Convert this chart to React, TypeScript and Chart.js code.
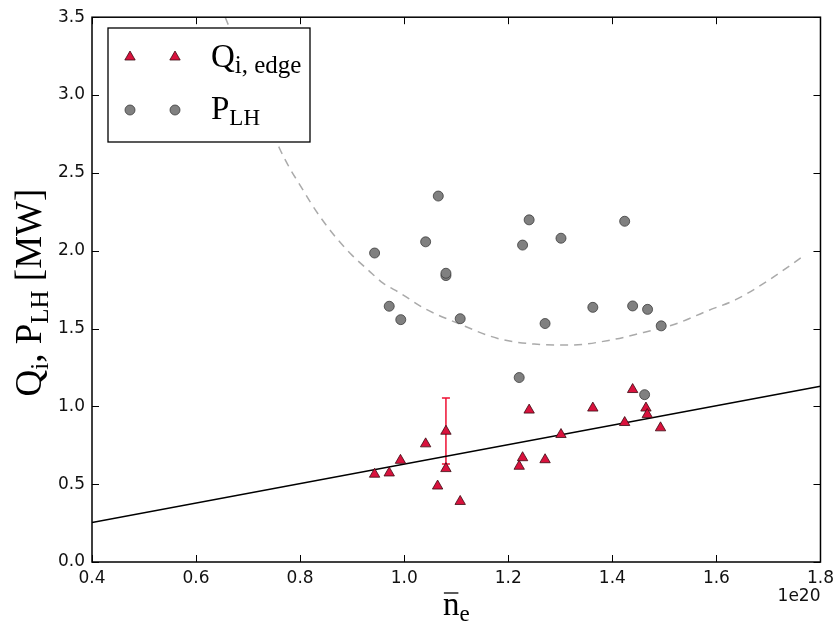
import React, { useEffect, useRef } from 'react';
import { Chart, registerables } from 'chart.js';

Chart.register(...registerables);

// ---------- data ----------
const plhDensity = [1.0655, 1.2401, 1.4237, 1.0412, 0.9431, 1.3013, 1.2275, 1.0802, 1.0802, 0.9712, 0.9934, 1.1076, 1.2707, 1.3625, 1.439, 1.4677, 1.4939, 1.221, 1.462];
const plhPower = [2.351, 2.198, 2.189, 2.057, 1.985, 2.08, 2.036, 1.84, 1.855, 1.643, 1.557, 1.563, 1.532, 1.636, 1.645, 1.623, 1.517, 1.185, 1.075];

const qiDensity = [0.9431, 0.9712, 0.9928, 1.0412, 1.0642, 1.0802, 1.0802, 1.1076, 1.221, 1.2275, 1.2401, 1.2707, 1.3013, 1.3625, 1.4237, 1.439, 1.4646, 1.4671, 1.4926];
const qiPower = [0.564, 0.572, 0.653, 0.759, 0.488, 0.84, 0.6, 0.389, 0.615, 0.67, 0.976, 0.657, 0.819, 0.989, 0.896, 1.108, 0.989, 0.947, 0.862];

const errDensity = [1.0802];
const errLow = [0.63];
const errHigh = [1.053];

const fitDensity = [0.4, 1.8];
const fitPower = [0.253, 1.129];

const curveDensity = [0.656, 0.7, 0.735, 0.76, 0.78, 0.8, 0.82, 0.84, 0.87, 0.9, 0.93, 0.96, 0.99, 1.04, 1.1, 1.18, 1.25, 1.32, 1.4, 1.46, 1.52, 1.58, 1.64, 1.7, 1.765];
const curvePower = [3.5, 3.14, 2.86, 2.66, 2.53, 2.42, 2.31, 2.21, 2.08, 1.97, 1.878, 1.79, 1.732, 1.627, 1.538, 1.436, 1.4, 1.394, 1.428, 1.475, 1.527, 1.61, 1.69, 1.81, 1.96];

const xMin = 0.4, xMax = 1.8, xStep = 0.2;
const yMin = 0, yMax = 3.5, yStep = 0.5;
const xOffsetText = '1e20';

// ---------- styles ----------
const SERIF = '"Liberation Serif", "Times New Roman", serif';
const SANS = '"DejaVu Sans", sans-serif';
const TRI_FILL = '#d9123d';
const TRI_EDGE = '#3a0a12';
const CIRC_FILL = '#808080';
const CIRC_EDGE = '#3c3c3c';

type Seg = { text: string; sub?: boolean };

function drawRich(ctx: CanvasRenderingContext2D, segs: Seg[], x: number, y: number, main: number, sub: number, shift: number, align: 'left' | 'center') {
  let total = 0;
  const widths: number[] = [];
  for (const s of segs) {
    ctx.font = `${s.sub ? sub : main}px ${SERIF}`;
    const w = ctx.measureText(s.text).width;
    widths.push(w);
    total += w;
  }
  let cx = align === 'center' ? x - total / 2 : x;
  const start = cx;
  ctx.textAlign = 'left';
  ctx.textBaseline = 'alphabetic';
  segs.forEach((s, i) => {
    ctx.font = `${s.sub ? sub : main}px ${SERIF}`;
    ctx.fillText(s.text, cx, y + (s.sub ? shift : 0));
    cx += widths[i];
  });
  return { start, widths };
}

function triangle(ctx: CanvasRenderingContext2D, x: number, y: number, r: number) {
  ctx.beginPath();
  let a = 0;
  ctx.moveTo(x + Math.sin(a) * r, y - Math.cos(a) * r);
  a += (2 * Math.PI) / 3;
  ctx.lineTo(x + Math.sin(a) * r, y - Math.cos(a) * r);
  a += (2 * Math.PI) / 3;
  ctx.lineTo(x + Math.sin(a) * r, y - Math.cos(a) * r);
  ctx.closePath();
  ctx.fillStyle = TRI_FILL;
  ctx.fill();
  ctx.strokeStyle = TRI_EDGE;
  ctx.lineWidth = 0.8;
  ctx.stroke();
}

function circle(ctx: CanvasRenderingContext2D, x: number, y: number, r: number) {
  ctx.beginPath();
  ctx.arc(x, y, r, 0, Math.PI * 2);
  ctx.fillStyle = CIRC_FILL;
  ctx.fill();
  ctx.strokeStyle = CIRC_EDGE;
  ctx.lineWidth = 0.8;
  ctx.stroke();
}

const decorPlugin = {
  id: 'decor',
  beforeDatasetsDraw(chart: any) {
    const ctx: CanvasRenderingContext2D = chart.ctx;
    const xs = chart.scales.x, ys = chart.scales.y;
    ctx.save();
    ctx.strokeStyle = '#ee1133';
    ctx.lineWidth = 1.5;
    errDensity.forEach((d, i) => {
      const px = xs.getPixelForValue(d);
      const lo = ys.getPixelForValue(errLow[i]);
      const hi = ys.getPixelForValue(errHigh[i]);
      ctx.beginPath();
      ctx.moveTo(px, lo); ctx.lineTo(px, hi);
      ctx.moveTo(px - 4, lo); ctx.lineTo(px + 4, lo);
      ctx.moveTo(px - 4, hi); ctx.lineTo(px + 4, hi);
      ctx.stroke();
    });
    ctx.restore();
  },
  afterDatasetsDraw(chart: any) {
    const ctx: CanvasRenderingContext2D = chart.ctx;
    const a = chart.chartArea;
    const xs = chart.scales.x, ys = chart.scales.y;
    ctx.save();
    // frame
    ctx.strokeStyle = '#000';
    ctx.lineWidth = 1.5;
    ctx.strokeRect(a.left, a.top, a.right - a.left, a.bottom - a.top);
    // inward ticks
    ctx.lineWidth = 1;
    const tl = 7;
    ctx.beginPath();
    xs.ticks.forEach((t: any) => {
      const px = Math.round(xs.getPixelForValue(t.value)) + 0.5;
      ctx.moveTo(px, a.bottom); ctx.lineTo(px, a.bottom - tl);
      ctx.moveTo(px, a.top); ctx.lineTo(px, a.top + tl);
    });
    ys.ticks.forEach((t: any) => {
      const py = Math.round(ys.getPixelForValue(t.value)) + 0.5;
      ctx.moveTo(a.left, py); ctx.lineTo(a.left + tl, py);
      ctx.moveTo(a.right, py); ctx.lineTo(a.right - tl, py);
    });
    ctx.stroke();

    // legend
    const lx = 108, ly = 28, lw = 202, lh = 114;
    ctx.fillStyle = '#fff';
    ctx.fillRect(lx, ly, lw, lh);
    ctx.strokeStyle = '#000';
    ctx.lineWidth = 1.3;
    ctx.strokeRect(lx, ly, lw, lh);
    triangle(ctx, 130, 57, 6);
    triangle(ctx, 175, 57, 6);
    circle(ctx, 130, 110, 5);
    circle(ctx, 175, 110, 5);
    ctx.fillStyle = '#000';
    drawRich(ctx, [{ text: 'Q' }, { text: 'i, edge', sub: true }], 211, 67, 33, 25, 6, 'left');
    drawRich(ctx, [{ text: 'P' }, { text: 'LH', sub: true }], 211, 119, 33, 23, 6, 'left');
    ctx.restore();
  },
  afterDraw(chart: any) {
    const ctx: CanvasRenderingContext2D = chart.ctx;
    const a = chart.chartArea;
    ctx.save();
    ctx.fillStyle = '#000';
    // y title
    ctx.translate(41, (a.top + a.bottom) / 2 + 3);
    ctx.rotate(-Math.PI / 2);
    drawRich(ctx, [{ text: 'Q' }, { text: 'i', sub: true }, { text: ', P' }, { text: 'LH', sub: true }, { text: ' [MW]' }], 0, 0, 37, 25, 7, 'center');
    ctx.restore();

    ctx.save();
    ctx.fillStyle = '#000';
    const cx = (a.left + a.right) / 2;
    const r = drawRich(ctx, [{ text: 'n' }, { text: 'e', sub: true }], cx, 615, 33, 23, 6, 'center');
    ctx.strokeStyle = '#000';
    ctx.lineWidth = 1.3;
    ctx.beginPath();
    ctx.moveTo(r.start + 1, 593);
    ctx.lineTo(r.start + r.widths[0] - 1, 593);
    ctx.stroke();
    // offset text
    ctx.font = `17px ${SANS}`;
    ctx.textAlign = 'right';
    ctx.textBaseline = 'middle';
    ctx.fillStyle = '#111';
    ctx.fillText(xOffsetText, a.right, 597);
    ctx.restore();
  },
};

export default function App() {
  const ref = useRef<HTMLCanvasElement | null>(null);
  useEffect(() => {
    if (!ref.current) return;
    const chart = new Chart(ref.current, {
      type: 'scatter',
      data: {
        datasets: [
          {
            label: 'Q_i,edge',
            data: qiDensity.map((x, i) => ({ x, y: qiPower[i] })),
            pointStyle: 'triangle',
            pointRadius: 6,
            backgroundColor: TRI_FILL,
            borderColor: TRI_EDGE,
            borderWidth: 0.8,
            order: 0,
          },
          {
            label: 'P_LH',
            data: plhDensity.map((x, i) => ({ x, y: plhPower[i] })),
            pointStyle: 'circle',
            pointRadius: 5,
            backgroundColor: CIRC_FILL,
            borderColor: CIRC_EDGE,
            borderWidth: 0.8,
            order: 1,
          },
          {
            type: 'line',
            label: 'fit',
            data: fitDensity.map((x, i) => ({ x, y: fitPower[i] })),
            borderColor: '#000',
            borderWidth: 1.5,
            pointRadius: 0,
            fill: false,
            order: 2,
          },
          {
            type: 'line',
            label: 'scaling',
            data: curveDensity.map((x, i) => ({ x, y: curvePower[i] })),
            borderColor: '#aaaaaa',
            borderWidth: 1.5,
            borderDash: [8, 6],
            pointRadius: 0,
            cubicInterpolationMode: 'monotone',
            fill: false,
            order: 3,
          },
        ] as any,
      },
      options: {
        animation: false,
        responsive: false,
        maintainAspectRatio: false,
        layout: { padding: { top: 13, right: 16, left: 0, bottom: 0 } },
        plugins: { legend: { display: false }, tooltip: { enabled: false } },
        scales: {
          x: {
            type: 'linear',
            min: xMin,
            max: xMax,
            grid: { display: false, drawTicks: false },
            border: { display: false },
            ticks: {
              stepSize: xStep,
              padding: 6,
              color: '#111',
              font: { family: SANS, size: 17 },
              callback: (v: any) => Number(v).toFixed(1),
            },
            afterFit: (s: any) => { s.height = 65; },
          },
          y: {
            type: 'linear',
            min: yMin,
            max: yMax,
            grid: { display: false, drawTicks: false },
            border: { display: false },
            ticks: {
              stepSize: yStep,
              padding: 7,
              color: '#111',
              font: { family: SANS, size: 17 },
              callback: (v: any) => Number(v).toFixed(1),
            },
            afterFit: (s: any) => { s.width = 92; },
          },
        },
      } as any,
      plugins: [decorPlugin],
    });
    return () => chart.destroy();
  }, []);
  return (
    <div style={{ position: 'absolute', left: 0, top: 0, width: 840, height: 627, background: '#fff' }}>
      <canvas ref={ref} width={840} height={627} style={{ display: 'block' }} />
    </div>
  );
}
